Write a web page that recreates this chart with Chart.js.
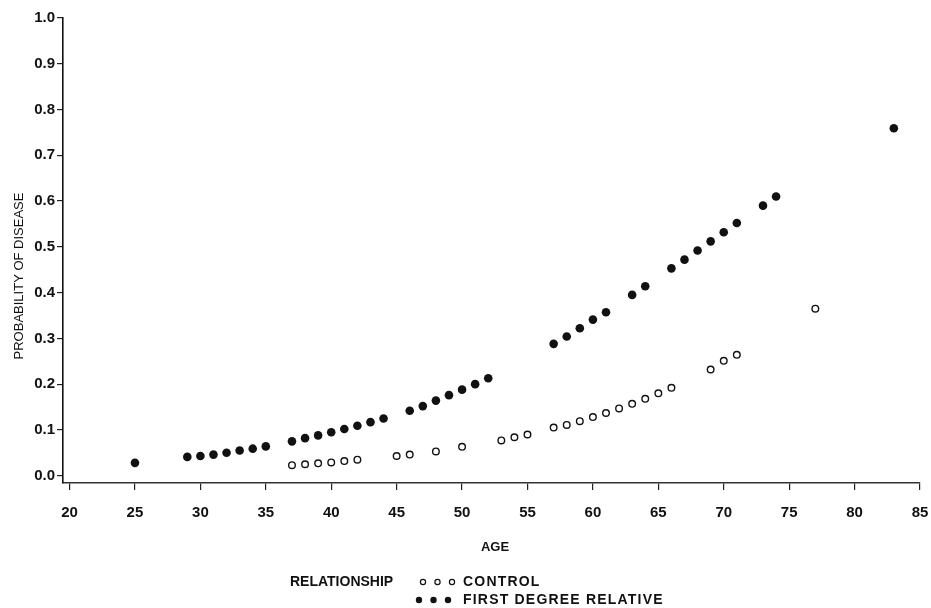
<!DOCTYPE html>
<html>
<head>
<meta charset="utf-8">
<script src="https://cdn.jsdelivr.net/npm/chart.js@4.4.1/dist/chart.umd.min.js"></script>
<style>
  html, body { margin: 0; padding: 0; background: #fff; }
  #wrap { position: relative; width: 931px; height: 608px; }
</style>
</head>
<body>
<div id="wrap"><canvas id="c" width="931" height="608"></canvas></div>
<script>
// ---- data ----
const xTicks = [20, 25, 30, 35, 40, 45, 50, 55, 60, 65, 70, 75, 80, 85];
const yTicks = [0.0, 0.1, 0.2, 0.3, 0.4, 0.5, 0.6, 0.7, 0.8, 0.9, 1.0];

const ageRelative = [25,29,30,31,32,33,34,35,37,38,39,40,41,42,43,44,46,47,48,49,50,51,52,57,58,59,60,61,63,64,66,67,68,69,70,71,73,74,83];
const probRelative = [0.028,0.041,0.043,0.046,0.050,0.055,0.059,0.064,0.075,0.082,0.088,0.095,0.102,0.109,0.117,0.125,0.142,0.152,0.164,0.176,0.188,0.200,0.213,0.288,0.304,0.322,0.341,0.357,0.395,0.414,0.453,0.472,0.492,0.512,0.532,0.552,0.590,0.610,0.759];

const ageControl = [37,38,39,40,41,42,45,46,48,50,53,54,55,57,58,59,60,61,62,63,64,65,66,69,70,71,77];
const probControl = [0.023,0.025,0.027,0.029,0.032,0.035,0.043,0.046,0.053,0.063,0.077,0.084,0.090,0.105,0.111,0.119,0.128,0.137,0.147,0.157,0.168,0.180,0.192,0.232,0.251,0.264,0.365];

const xTitle = 'AGE';
const yTitle = 'PROBABILITY OF DISEASE';
const legendTitle = 'RELATIONSHIP';
const seriesNames = ['CONTROL', 'FIRST DEGREE RELATIVE'];

// ---- build ----
const FONT = "'Liberation Sans Narrow', 'Liberation Sans', Arial, sans-serif";
const toPts = (xs, ys) => xs.map((x, i) => ({ x: x, y: ys[i] }));

const titlesPlugin = {
  id: 'titles',
  afterDraw(chart) {
    const ctx = chart.ctx;
    ctx.save();
    ctx.fillStyle = '#111';
    ctx.textBaseline = 'middle';
    // y title
    ctx.save();
    ctx.translate(19, 276);
    ctx.rotate(-Math.PI / 2);
    ctx.textAlign = 'center';
    ctx.font = "13px " + FONT;
    ctx.fillText(yTitle, 0, 0);
    ctx.restore();
    // x title
    ctx.textAlign = 'center';
    ctx.font = "bold 13px " + FONT;
    ctx.fillText(xTitle, 495, 547);
    // legend
    ctx.textAlign = 'left';
    ctx.font = "bold 14px " + FONT;
    ctx.fillText(legendTitle, 290, 582);
    ctx.save();
    if ('letterSpacing' in ctx) ctx.letterSpacing = '1.2px';
    ctx.fillText(seriesNames[0], 463, 582);
    ctx.fillText(seriesNames[1], 463, 600);
    ctx.restore();
    // markers
    ctx.strokeStyle = '#111';
    ctx.fillStyle = '#111';
    ctx.lineWidth = 1.2;
    [423, 437.5, 452].forEach(x => {
      ctx.beginPath(); ctx.arc(x, 582, 2.6, 0, Math.PI * 2); ctx.stroke();
    });
    [419, 433.5, 448].forEach(x => {
      ctx.beginPath(); ctx.arc(x, 600, 3.2, 0, Math.PI * 2); ctx.fill();
    });
    ctx.restore();
  }
};

new Chart(document.getElementById('c'), {
  type: 'scatter',
  data: {
    datasets: [
      {
        label: seriesNames[0],
        data: toPts(ageControl, probControl),
        pointStyle: 'circle',
        pointRadius: 3.3,
        pointBorderWidth: 1.4,
        pointBackgroundColor: '#fff',
        pointBorderColor: '#111',
        pointHoverRadius: 3.3
      },
      {
        label: seriesNames[1],
        data: toPts(ageRelative, probRelative),
        pointStyle: 'circle',
        pointRadius: 4.3,
        pointBorderWidth: 0,
        pointBackgroundColor: '#111',
        pointBorderColor: '#111',
        pointHoverRadius: 4.3
      }
    ]
  },
  options: {
    responsive: false,
    animation: false,
    events: [],
    layout: { padding: { top: 18, right: 11, left: 0, bottom: 0 } },
    plugins: { legend: { display: false }, tooltip: { enabled: false }, title: { display: false } },
    scales: {
      x: {
        type: 'linear',
        min: 19.5,
        max: 85,
        afterBuildTicks: s => { s.ticks = xTicks.map(v => ({ value: v })); },
        afterFit: s => { s.height = 125; s.paddingLeft = 0; s.paddingRight = 0; },
        ticks: {
          color: '#111',
          padding: 14,
          font: { family: FONT, size: 15, weight: 'bold' },
          callback: v => String(v)
        },
        grid: { drawOnChartArea: false, drawTicks: true, tickLength: 7, color: '#222', lineWidth: 1.2 },
        border: { display: true, color: '#333', width: 1.6 }
      },
      y: {
        type: 'linear',
        min: -0.016,
        max: 1.0,
        afterBuildTicks: s => { s.ticks = yTicks.map(v => ({ value: v })); },
        afterFit: s => { s.width = 63; s.paddingTop = 0; s.paddingBottom = 0; },
        ticks: {
          color: '#111',
          padding: 2,
          font: { family: FONT, size: 15, weight: 'bold' },
          callback: v => Number(v).toFixed(1)
        },
        grid: { drawOnChartArea: false, drawTicks: true, tickLength: 6, color: '#222', lineWidth: 1.2 },
        border: { display: true, color: '#111', width: 1.6 }
      }
    }
  },
  plugins: [titlesPlugin]
});
</script>
</body>
</html>
